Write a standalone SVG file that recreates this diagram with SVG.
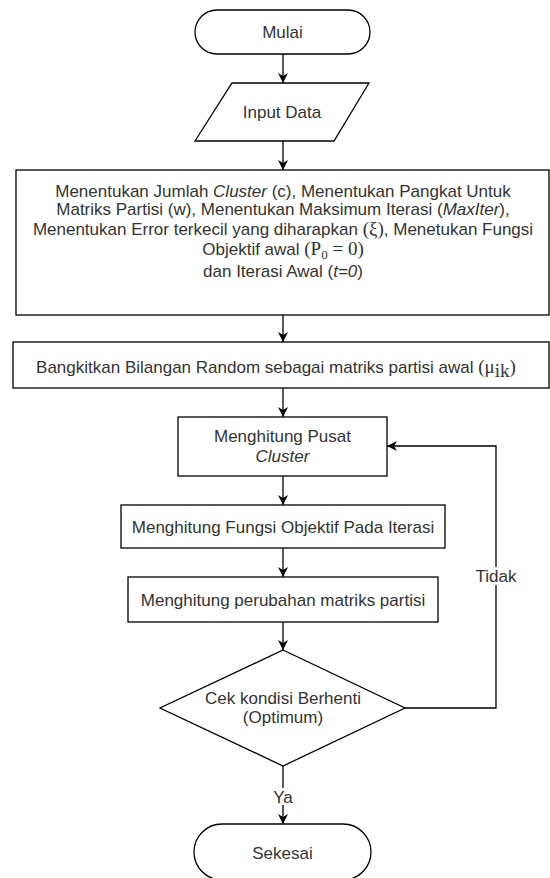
<svg xmlns="http://www.w3.org/2000/svg" width="550" height="878" viewBox="0 0 550 878">
<defs>
<style>
.n{fill:#fff;stroke:#000;stroke-width:1.3}
.t{font-family:"Liberation Sans",Arial,sans-serif;font-size:17px;fill:#333;text-anchor:middle}
.m{font-family:"Liberation Serif","DejaVu Serif",serif;font-size:19px}
.s{font-family:"Liberation Serif","DejaVu Serif",serif;font-size:13px}
.c{fill:none;stroke:#000;stroke-width:1.3}
.lb{fill:#fff;stroke:none}
</style>
<marker id="arr" viewBox="0 0 10 10" refX="10" refY="5" markerWidth="10" markerHeight="10" markerUnits="userSpaceOnUse" orient="auto"><path d="M0,0 L10,5 L0,10 L3,5 z" fill="#000"/></marker>
</defs>
<rect width="550" height="878" fill="#fff"/>
<g id="connectors">
<path class="c" d="M283,54 L283,83" marker-end="url(#arr)"/>
<path class="c" d="M283,141 L283,170" marker-end="url(#arr)"/>
<path class="c" d="M283,315 L283,342" marker-end="url(#arr)"/>
<path class="c" d="M283,388 L283,417" marker-end="url(#arr)"/>
<path class="c" d="M283,476 L283,505" marker-end="url(#arr)"/>
<path class="c" d="M283,548 L283,577" marker-end="url(#arr)"/>
<path class="c" d="M283,622 L283,650" marker-end="url(#arr)"/>
<path class="c" d="M283,766 L283,824" marker-end="url(#arr)"/>
<path class="c" d="M405,708 L496,708 L496,446 L387,446" marker-end="url(#arr)"/>
<rect class="lb" x="273" y="788" width="20" height="17"/>
<text class="t" x="283" y="803">Ya</text>
<rect class="lb" x="475" y="567" width="42" height="18"/>
<text class="t" x="496" y="582">Tidak</text>
</g>
<g id="mulai">
<rect class="n" x="195" y="10" width="175" height="44" rx="22"/>
<text class="t" x="282.5" y="38">Mulai</text>
</g>
<g id="input">
<polygon class="n" points="232,83 369,83 334,141 195,141"/>
<text class="t" x="282" y="118">Input Data</text>
</g>
<g id="parameter">
<rect class="n" x="16" y="170" width="533" height="145"/>
<text class="t" x="283" y="197">Menentukan Jumlah <tspan font-style="italic">Cluster</tspan> (c), Menentukan Pangkat Untuk</text>
<text class="t" x="283" y="215">Matriks Partisi (w), Menentukan Maksimum Iterasi (<tspan font-style="italic">MaxIter</tspan>),</text>
<text class="t" x="283" y="235">Menentukan Error terkecil yang diharapkan <tspan class="m">(ξ)</tspan>, Menetukan Fungsi</text>
<text class="t" x="283" y="255">Objektif awal <tspan class="m">(P</tspan><tspan class="s" dy="4">0</tspan><tspan class="m" dy="-4"> = 0)</tspan></text>
<text class="t" x="283" y="277">dan Iterasi Awal (<tspan font-style="italic">t=0</tspan>)</text>
</g>
<g id="bangkitkan">
<rect class="n" x="13" y="342" width="536" height="46"/>
<text class="t" x="276" y="373">Bangkitkan Bilangan Random sebagai matriks partisi awal <tspan class="m">(μ</tspan><tspan class="m" dy="4">ik</tspan><tspan class="m" dy="-4">)</tspan></text>
</g>
<g id="pusat">
<rect class="n" x="178" y="417" width="209" height="59"/>
<text class="t" x="282.5" y="442">Menghitung Pusat</text>
<text class="t" x="282.5" y="462" font-style="italic">Cluster</text>
</g>
<g id="fungsi">
<rect class="n" x="121" y="505" width="324" height="43"/>
<text class="t" x="283" y="533">Menghitung Fungsi Objektif Pada Iterasi</text>
</g>
<g id="perubahan">
<rect class="n" x="128" y="577" width="310" height="45"/>
<text class="t" x="283" y="606">Menghitung perubahan matriks partisi</text>
</g>
<g id="cek">
<polygon class="n" points="283,650 405,708 283,766 160,708"/>
<text class="t" x="283" y="704">Cek kondisi Berhenti</text>
<text class="t" x="283" y="723">(Optimum)</text>
</g>
<g id="selesai">
<rect class="n" x="194" y="824" width="177" height="56" rx="28"/>
<text class="t" x="282.5" y="859">Sekesai</text>
</g>
</svg>
